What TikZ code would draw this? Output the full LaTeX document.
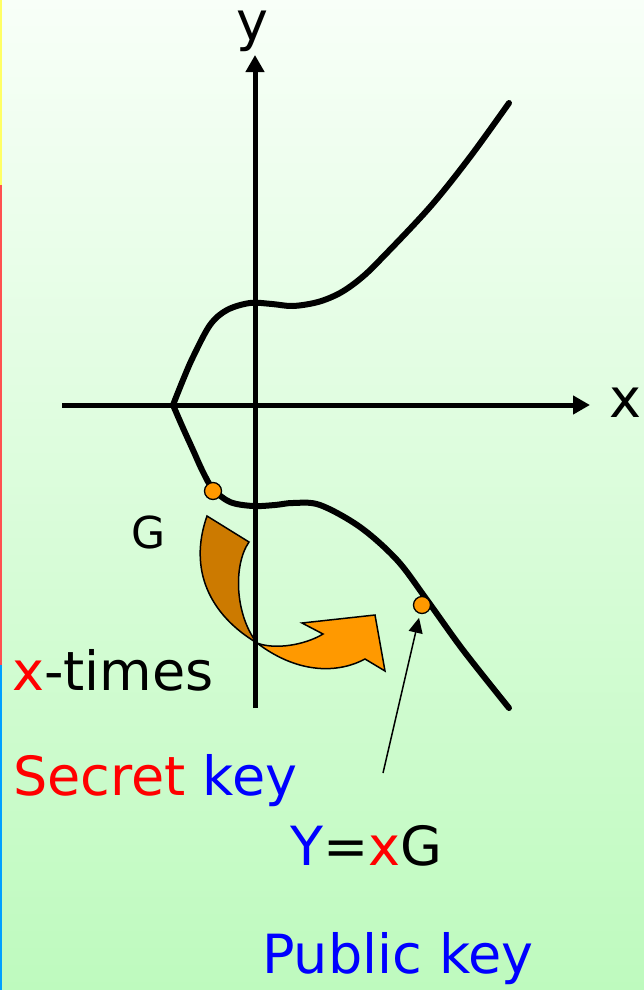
\documentclass[tikz,border=0pt]{standalone}
\usepackage{fontspec}
\setmainfont{DejaVu Sans}
\usetikzlibrary{arrows.meta}
\definecolor{bgtop}{RGB}{248,255,248}
\definecolor{bgbot}{RGB}{190,250,190}
\definecolor{darkor}{RGB}{204,122,0}
\definecolor{lightor}{RGB}{255,153,0}
\definecolor{stripY}{RGB}{255,255,100}
\definecolor{stripR}{RGB}{255,80,80}
\definecolor{stripB}{RGB}{0,160,255}
\tikzset{
  axis/.style={line width=5pt,-{Triangle[length=17pt,width=18pt]}},
  ecurve/.style={line width=6pt,line cap=round,smooth,tension=0.55},
  dotnode/.style={circle,draw=black,line width=1.3pt,fill=lightor,minimum size=17pt,inner sep=0pt},
  thinarrow/.style={line width=1.5pt,-{Triangle[length=15pt,width=14pt]},shorten >=4pt},
  ribbon/.style={draw=black,line width=1.5pt,line join=miter},
  big/.style={inner sep=0pt,font=\fontsize{54}{58}\selectfont},
  mid/.style={inner sep=0pt,font=\fontsize{44}{48}\selectfont}
}
\begin{document}
\begin{tikzpicture}[x=1pt,y=-1pt]
\useasboundingbox (0,0) rectangle (644,990);
\shade[top color=bgtop,bottom color=bgbot] (0,0) rectangle (644,990);
\fill[stripY] (0,0) rectangle (2,185);
\fill[stripR] (0,185) rectangle (2,665);
\fill[stripB] (0,665) rectangle (2,990);
% ribbon arrow
\path[ribbon,fill=darkor] (207,516) -- (249,542) .. controls (233,565) and (235,615) .. (257,643)
  .. controls (210,615) and (188,570) .. (207,516) -- cycle;
\path[ribbon,fill=lightor] (257,643) .. controls (275,650) and (305,645) .. (323,634) -- (302,623) -- (375,615) -- (385,671) -- (365,659)
  .. controls (335,675) and (295,672) .. (257,643) -- cycle;
% axes
\coordinate (xl) at (62,405);
\coordinate (xr) at (590,405);
\coordinate (yb) at (255,708);
\coordinate (yt) at (255,55);
\draw[axis] (xl) -- (xr);
\draw[axis] (yb) -- (yt);
% curve
\draw[ecurve] plot coordinates {(173,405) (183,380) (193,357) (210,325) (227,310) (250,303) (272,304) (293,306) (318,302) (340,293) (360,279) (380,260) (430,207) (470,157) (509,103)};
\draw[ecurve] plot coordinates {(173,405) (183,428) (193,450) (203,472) (213,489) (230,502) (253,506) (275,505) (293,503) (320,505) (360,527) (397,560) (427,600) (463,650) (509,708)};
% points
\node[dotnode] (G) at (213,491) {};
\node[dotnode] (Yp) at (422,605) {};
\coordinate (ytail) at (383,773);
\draw[thinarrow] (ytail) -- (Yp);
% labels
\node[big,anchor=base west] (xlab) at (609,417) {x};
\node[big,anchor=base west] (ylab) at (236,41) {y};
\node[mid,anchor=base west] (Glab) at (131,548) {G};
\node[big,anchor=base west] (xtimes) at (12,690) {\textcolor{red}{x}-times};
\node[big,anchor=base west] (secret) at (13,795) {\textcolor{red}{Secret} \textcolor{blue}{key}};
\node[big,anchor=base west] (eq) at (290,865) {\textcolor{blue}{Y}=\textcolor{red}{x}G};
\node[big,anchor=base west] (pub) at (262,973) {\textcolor{blue}{Public key}};
\end{tikzpicture}
\end{document}
